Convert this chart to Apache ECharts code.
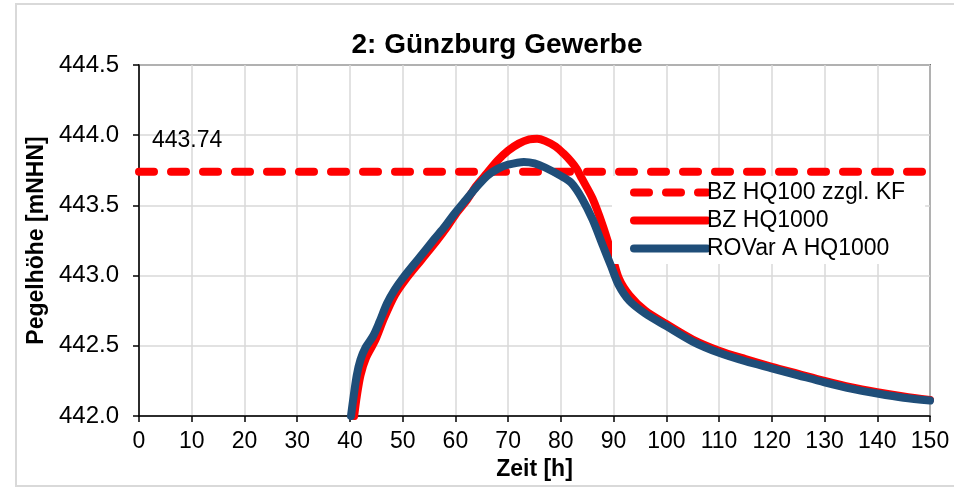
<!DOCTYPE html>
<html>
<head>
<meta charset="utf-8">
<script src="https://cdn.jsdelivr.net/npm/echarts@6/dist/echarts.min.js"></script>
<style>
html,body{margin:0;padding:0;background:#fff;}
#c{width:954px;height:488px;}
</style>
</head>
<body>
<div id="c"></div>
<script>
var titleText = '2: Günzburg Gewerbe';
var xAxisName = 'Zeit [h]';
var yAxisName = 'Pegelhöhe [mNHN]';
var seriesNames = ['BZ HQ100 zzgl. KF', 'BZ HQ1000', 'ROVar A HQ1000'];

// threshold level (BZ HQ100 zzgl. KF)
var kfTimes = [0, 150];
var kfLevel = 443.74;

// BZ HQ1000
var bzTimes = [40.8, 41.3, 42, 43, 44.8, 46.5, 48.5, 50.5, 53.5, 56.5, 58.5, 60.3, 62.2, 64, 66, 68, 70, 72, 74, 75.5, 77, 79, 80.5, 82, 83, 84, 86, 88, 89.5, 91, 93, 96, 100, 105, 110, 115, 120, 125, 130, 135, 140, 145, 150];
var bzValues = [442.0, 442.14, 442.29, 442.41, 442.54, 442.7, 442.86, 442.97, 443.11, 443.25, 443.35, 443.45, 443.54, 443.64, 443.73, 443.82, 443.89, 443.94, 443.97, 443.975, 443.96, 443.92, 443.87, 443.81, 443.76, 443.69, 443.55, 443.35, 443.17, 442.98, 442.86, 442.75, 442.655, 442.545, 442.465, 442.405, 442.35, 442.3, 442.25, 442.205, 442.17, 442.14, 442.115];

// ROVar A HQ1000
var roTimes = [40.2, 40.7, 41.3, 42, 43, 44.4, 45.6, 47, 48.5, 50, 53, 56, 58, 60, 62, 64, 66, 68, 70, 73, 75, 77, 80, 82, 84, 86, 88, 89.5, 91, 93, 96, 100, 105, 110, 115, 120, 125, 130, 135, 140, 145, 150];
var roValues = [442.0, 442.14, 442.29, 442.40, 442.49, 442.57, 442.67, 442.8, 442.9, 442.98, 443.12, 443.26, 443.35, 443.45, 443.54, 443.63, 443.71, 443.76, 443.79, 443.81, 443.80, 443.77, 443.71, 443.66, 443.55, 443.40, 443.21, 443.07, 442.93, 442.82, 442.73, 442.64, 442.53, 442.45, 442.39, 442.34, 442.29, 442.24, 442.195, 442.16, 442.13, 442.11];

var xTicks = {min: 0, max: 150, interval: 10};
var yTicks = {min: 442.0, max: 444.5, interval: 0.5};

function pairs(xs, ys) { return xs.map(function (x, i) { return [x, ys[i]]; }); }

var kfData = kfTimes.map(function (t, i) {
  var item = {value: [t, kfLevel]};
  if (i === 0) item.label = {show: true};
  return item;
});

var FONT = '"Liberation Sans", Arial, sans-serif';
var chart = echarts.init(document.getElementById('c'), null, {renderer: 'canvas'});
chart.setOption({
  animation: false,
  backgroundColor: '#fff',
  graphic: [{
    type: 'rect', shape: {x: 16, y: 4, width: 960, height: 482},
    style: {fill: 'none', stroke: '#d9d9d9', lineWidth: 2}, z: -1, silent: true
  }],
  title: {
    text: titleText, left: 492, top: 26, textAlign: 'center',
    textStyle: {fontFamily: FONT, fontSize: 28, fontWeight: 'bold', color: '#000'}
  },
  grid: {left: 139, right: 24, top: 65, bottom: 72, show: true, borderColor: '#000', borderWidth: 1.5, backgroundColor: 'transparent'},
  legend: {
    orient: 'vertical', left: 612, top: 176,
    padding: [5, 20, 4, 18], itemGap: 5, itemWidth: 73, itemHeight: 14,
    backgroundColor: '#fff',
    data: seriesNames,
    lineStyle: {width: 8, cap: 'round'},
    itemStyle: {opacity: 0},
    textStyle: {fontFamily: FONT, fontSize: 23, color: '#000', padding: [0, 0, 0, -5]}
  },
  xAxis: {
    type: 'value', min: xTicks.min, max: xTicks.max, interval: xTicks.interval,
    name: xAxisName, nameLocation: 'middle', nameGap: 40,
    nameTextStyle: {fontFamily: FONT, fontSize: 23, fontWeight: 'bold', color: '#000'},
    axisLine: {show: true, onZero: false, lineStyle: {color: '#000', width: 1.5}},
    axisTick: {show: true, inside: false, length: 6, lineStyle: {color: '#000', width: 1.5}},
    axisLabel: {fontFamily: FONT, fontSize: 23, color: '#000', margin: 14},
    splitLine: {show: true, lineStyle: {color: '#d9d9d9', width: 1.5}}
  },
  yAxis: {
    type: 'value', min: yTicks.min, max: yTicks.max, interval: yTicks.interval,
    name: yAxisName, nameLocation: 'middle', nameGap: 89,
    nameTextStyle: {fontFamily: FONT, fontSize: 23, fontWeight: 'bold', color: '#000'},
    axisLine: {show: true, lineStyle: {color: '#000', width: 1.5}},
    axisTick: {show: true, inside: false, length: 6, lineStyle: {color: '#000', width: 1.5}},
    axisLabel: {fontFamily: FONT, fontSize: 24, color: '#000', margin: 20,
      formatter: function (v) { return v.toFixed(1); }},
    splitLine: {show: true, lineStyle: {color: '#d9d9d9', width: 1.5}}
  },
  series: [
    {
      name: seriesNames[0], type: 'line', data: kfData,
      symbol: 'circle', symbolSize: 0.01, showSymbol: true,
      itemStyle: {color: '#ff0000'},
      lineStyle: {color: '#ff0000', width: 8, type: [15, 17], cap: 'round'},
      label: {show: false, position: [13, -31], align: 'left', verticalAlign: 'middle',
        fontFamily: FONT, fontSize: 23, color: '#000',
        formatter: function (p) { return p.value[1].toFixed(2); }},
      z: 3
    },
    {
      name: seriesNames[1], type: 'line', data: pairs(bzTimes, bzValues),
      symbol: 'none', smooth: 0.3,
      itemStyle: {color: '#ff0000'},
      lineStyle: {color: '#ff0000', width: 8, cap: 'round', join: 'round'},
      z: 2
    },
    {
      name: seriesNames[2], type: 'line', data: pairs(roTimes, roValues),
      symbol: 'none', smooth: 0.3,
      itemStyle: {color: '#1f4e79'},
      lineStyle: {color: '#1f4e79', width: 8, cap: 'round', join: 'round'},
      z: 4
    }
  ]
});
</script>
</body>
</html>
